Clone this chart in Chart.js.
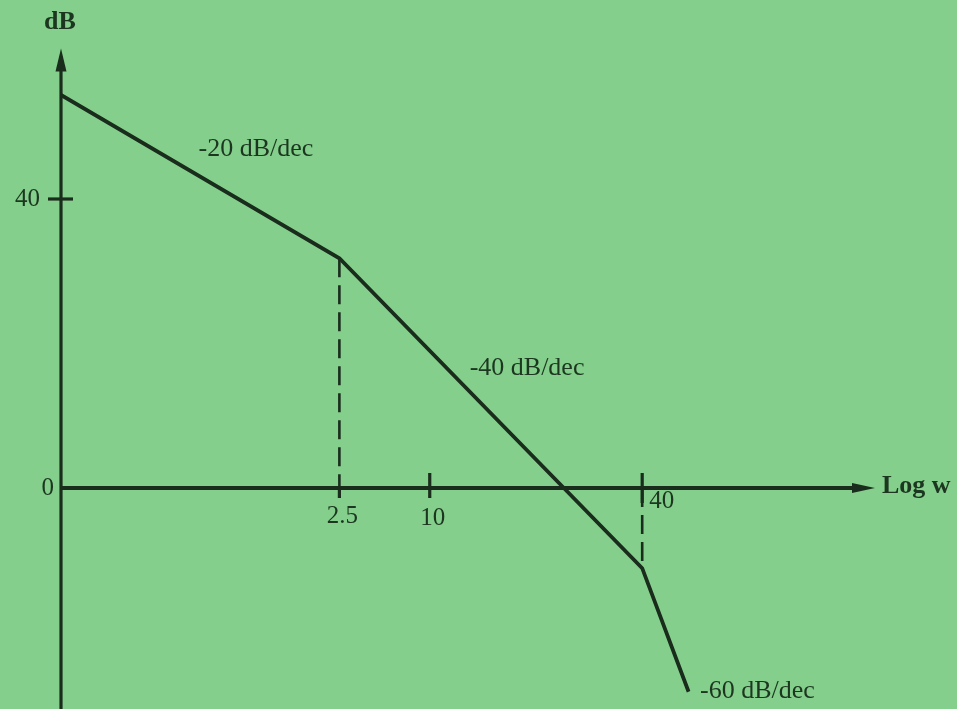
<!DOCTYPE html>
<html>
<head>
<meta charset="utf-8">
<script src="https://cdn.jsdelivr.net/npm/chart.js@4.4.1/dist/chart.umd.min.js"></script>
<style>
  html, body { margin: 0; padding: 0; background: #84cf8c; }
  #wrap { width: 957px; height: 709px; }
</style>
</head>
<body>
<div id="wrap"><canvas id="bode" width="957" height="709"></canvas></div>
<script>
// Asymptotic Bode magnitude sketch. The log w axis is schematic (not to scale),
// so each break frequency sits at a sketch position along it.
const cornerLabels = ['2.5', '10', '40'];
const cornerPos = [34.2, 45.3, 71.4];          // position of each frequency on the sketched axis
const curvePos = [0, 34.2, 71.4, 77.1];        // asymptote vertices along the axis
const curveDb = [54.4, 31.8, -11.1, -28.2];    // magnitude at each vertex, dB
const dbTickValues = [40, 0];
const dbTickLabels = ['40', '0'];
const slopeLabels = ['-20 dB/dec', '-40 dB/dec', '-60 dB/dec'];

const BG = '#84cf8c';
const INK = '#1a2c1c';
const TEXT = '#1c361f';
const SERIF = '"Liberation Serif", "Times New Roman", serif';

const sketchPlugin = {
  id: 'sketch',
  beforeDraw(chart) {
    const c = chart.ctx;
    c.save();
    c.fillStyle = BG;
    c.fillRect(0, 0, chart.width, chart.height);
    c.restore();
  },
  beforeDatasetsDraw(chart) {
    const c = chart.ctx;
    const xs = chart.scales.x, ys = chart.scales.y;
    const x0 = xs.getPixelForValue(0);
    const y0 = ys.getPixelForValue(0);
    const yTip = ys.top - 6;
    const xTip = xs.right;
    c.save();
    c.strokeStyle = INK;
    c.fillStyle = INK;
    c.lineCap = 'butt';

    // vertical dB axis with arrow
    c.lineWidth = 3.2;
    c.beginPath();
    c.moveTo(x0, yTip + 16);
    c.lineTo(x0, chart.height);
    c.stroke();
    c.beginPath();
    c.moveTo(x0, yTip);
    c.lineTo(x0 - 5.5, yTip + 23);
    c.lineTo(x0 + 5.5, yTip + 23);
    c.closePath();
    c.fill();

    // horizontal log w axis with arrow
    c.lineWidth = 3.8;
    c.beginPath();
    c.moveTo(x0, y0);
    c.lineTo(xTip - 16, y0);
    c.stroke();
    c.beginPath();
    c.moveTo(xTip, y0);
    c.lineTo(xTip - 23, y0 - 5);
    c.lineTo(xTip - 23, y0 + 5);
    c.closePath();
    c.fill();

    // tick marks on the dB axis
    c.lineWidth = 3.2;
    dbTickValues.forEach(v => {
      if (v === 0) return;
      const y = ys.getPixelForValue(v);
      c.beginPath();
      c.moveTo(x0 - 13, y);
      c.lineTo(x0 + 12, y);
      c.stroke();
    });

    // tick marks on the frequency axis
    cornerPos.forEach((p, i) => {
      const x = xs.getPixelForValue(p);
      const up = i === 0 ? 0 : 15;
      const down = i === 2 ? 15 : 10;
      c.beginPath();
      c.moveTo(x, y0 - up);
      c.lineTo(x, y0 + down);
      c.stroke();
    });
    c.restore();
  },
  afterDraw(chart) {
    const c = chart.ctx;
    const xs = chart.scales.x, ys = chart.scales.y;
    const x0 = xs.getPixelForValue(0);
    const y0 = ys.getPixelForValue(0);
    c.save();
    c.fillStyle = TEXT;

    // axis titles
    c.font = 'bold 26px ' + SERIF;
    c.textAlign = 'center';
    c.textBaseline = 'alphabetic';
    c.fillText('dB', x0 - 1, 29);
    c.font = 'bold 26px ' + SERIF;
    c.textAlign = 'left';
    c.fillText('Log w', xs.right + 7, y0 + 5);

    // dB tick labels
    c.font = '25px ' + SERIF;
    c.textAlign = 'right';
    c.textBaseline = 'middle';
    dbTickValues.forEach((v, i) => {
      const y = ys.getPixelForValue(v);
      const gap = v === 0 ? 7 : 21;
      c.fillText(dbTickLabels[i], x0 - gap, y);
    });

    // frequency tick labels
    c.textBaseline = 'alphabetic';
    cornerLabels.forEach((t, i) => {
      const x = xs.getPixelForValue(cornerPos[i]);
      if (i === 2) {
        c.textAlign = 'left';
        c.fillText(t, x + 7, y0 + 20);
      } else {
        c.textAlign = 'center';
        c.fillText(t, x + 3, y0 + 35 + i * 2);
      }
    });

    // slope annotations, placed beside each asymptote segment
    c.font = '26px ' + SERIF;
    c.textAlign = 'left';
    const spots = [[16.9, 45.9], [50.2, 15.6], [78.5, -29.0]];
    slopeLabels.forEach((t, i) => {
      c.fillText(t, xs.getPixelForValue(spots[i][0]), ys.getPixelForValue(spots[i][1]));
    });
    c.restore();
  }
};

const pts = curvePos.map((x, i) => ({ x, y: curveDb[i] }));

new Chart(document.getElementById('bode'), {
  type: 'line',
  data: {
    datasets: [
      {
        data: pts,
        borderColor: INK,
        borderWidth: 3.8,
        pointRadius: 0,
        tension: 0,
        borderJoinStyle: 'miter',
        fill: false
      },
      {
        // guide from the 2.5 break down to the axis
        data: [{ x: cornerPos[0], y: curveDb[1] }, { x: cornerPos[0], y: 0 }],
        borderColor: INK,
        borderWidth: 2.6,
        borderDash: [19, 8],
        pointRadius: 0,
        fill: false
      },
      {
        // guide from the axis down to the 40 break
        data: [{ x: cornerPos[2], y: 0 }, { x: cornerPos[2], y: curveDb[2] }],
        borderColor: INK,
        borderWidth: 2.6,
        borderDash: [19, 8],
        pointRadius: 0,
        fill: false
      }
    ]
  },
  options: {
    responsive: false,
    animation: false,
    devicePixelRatio: 1,
    layout: { padding: { left: 61, right: 82, top: 54.5, bottom: 4.25 } },
    plugins: { legend: { display: false }, tooltip: { enabled: false } },
    scales: {
      x: { type: 'linear', min: 0, max: 100, display: false },
      y: { type: 'linear', min: -30, max: 60, display: false }
    }
  },
  plugins: [sketchPlugin]
});
</script>
</body>
</html>
